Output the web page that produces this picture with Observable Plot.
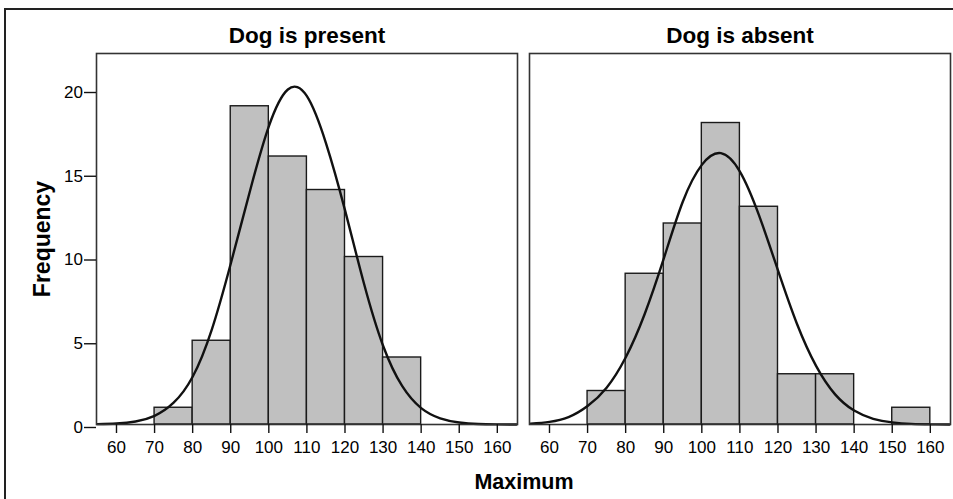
<!DOCTYPE html>
<html>
<head>
<meta charset="utf-8">
<script src="https://cdn.jsdelivr.net/npm/d3@7"></script>
<script src="https://cdn.jsdelivr.net/npm/@observablehq/plot@0.6"></script>
<style>
  html, body { margin: 0; padding: 0; overflow: hidden; background: #fff; width: 953px; height: 499px; }
  #border { position: absolute; left: 4px; top: 8px; width: 1000px; height: 600px;
            border-left: 2px solid #222; border-top: 2px solid #222; }
  #chart { position: absolute; left: 0; top: 0; }
</style>
</head>
<body>
<div id="border"></div>
<div id="chart"></div>
<script>
// Facet categories
const categories = ["Dog is present", "Dog is absent"];

// Histogram bins (Maximum)
const binLower = [70, 80, 90, 100, 110, 120, 130, 140, 150];
const binUpper = [80, 90, 100, 110, 120, 130, 140, 150, 160];
const presentCounts = [1, 5, 19, 16, 14, 10, 4, 0, 0];
const absentCounts  = [2, 9, 12, 18, 13, 3, 3, 0, 1];

// Fitted normal curves
const curveX = [55, 60, 65, 70, 75, 80, 85, 90, 95, 100, 105, 110, 115, 120, 125, 130, 135, 140, 145, 150, 155, 160, 165];
const presentCurve = [0.02, 0.06, 0.18, 0.52, 1.3, 2.85, 5.65, 9.6, 13.9, 17.8, 20.0, 19.6, 16.8, 12.8, 8.4, 4.7, 2.3, 0.98, 0.37, 0.12, 0.03, 0.01, 0.0];
const absentCurve  = [0.05, 0.16, 0.44, 1.1, 2.2, 4.0, 6.6, 9.9, 13.3, 15.5, 16.2, 15.1, 12.5, 9.2, 6.0, 3.5, 1.8, 0.83, 0.34, 0.13, 0.04, 0.01, 0.0];

// Ticks
const xTicks = [60, 70, 80, 90, 100, 110, 120, 130, 140, 150, 160];
const yTicks = [0, 5, 10, 15, 20];

// Build tables
const bars = [];
binLower.forEach((lo, i) => {
  if (presentCounts[i] > 0) bars.push({group: categories[0], x1: lo, x2: binUpper[i], count: presentCounts[i]});
  if (absentCounts[i] > 0) bars.push({group: categories[1], x1: lo, x2: binUpper[i], count: absentCounts[i]});
});
const curve = [];
curveX.forEach((x, i) => curve.push({group: categories[0], x, y: presentCurve[i]}));
curveX.forEach((x, i) => curve.push({group: categories[1], x, y: absentCurve[i]}));

const boldFont = "'Liberation Sans', Arial, sans-serif";

const chart = Plot.plot({
  width: 953,
  height: 499,
  marginTop: 53,
  marginBottom: 75,
  marginLeft: 96,
  marginRight: 3,
  style: {fontFamily: "'Liberation Sans', Arial, sans-serif", fontSize: "17px", color: "#000", background: "transparent"},
  fx: {domain: categories, paddingInner: 0.0277, paddingOuter: 0, round: false, axis: null},
  x: {domain: [54.75, 165.3]},
  y: {domain: [0, 22.15]},
  marks: [
    Plot.rectY(bars, {fx: "group", x1: "x1", x2: "x2", y: "count", fill: "#c0c0c0", stroke: "#1a1a1a", strokeWidth: 1.4}),
    Plot.line(curve, {fx: "group", x: "x", y: "y", z: "group", curve: "natural", stroke: "#111", strokeWidth: 2.4}),
    Plot.frame({stroke: "#333", strokeWidth: 1.6}),
    Plot.axisX({ticks: xTicks, tickSize: 9, tickPadding: 7, fontSize: 17, label: null, stroke: "#111", strokeWidth: 1.4}),
    Plot.axisY({ticks: yTicks, tickSize: 12, tickPadding: 1.5, fontSize: 17, label: null, dy: 3, stroke: "#111", strokeWidth: 1.4}),
    Plot.text(categories, {fx: d => d, text: d => d, frameAnchor: "top", dy: -26, fontSize: 22.5, fontWeight: "bold", fontFamily: boldFont}),
    Plot.text(["Frequency"], {fx: () => categories[0], text: d => d, frameAnchor: "left", textAnchor: "middle", rotate: -90, dx: -54, fontSize: 23, fontWeight: "bold", fontFamily: boldFont}),
    Plot.text(["Maximum"], {fx: () => categories[0], text: d => d, frameAnchor: "bottom", dx: 217, dy: 64, fontSize: 21.5, fontWeight: "bold", fontFamily: boldFont})
  ]
});
document.getElementById("chart").appendChild(chart);
</script>
</body>
</html>
